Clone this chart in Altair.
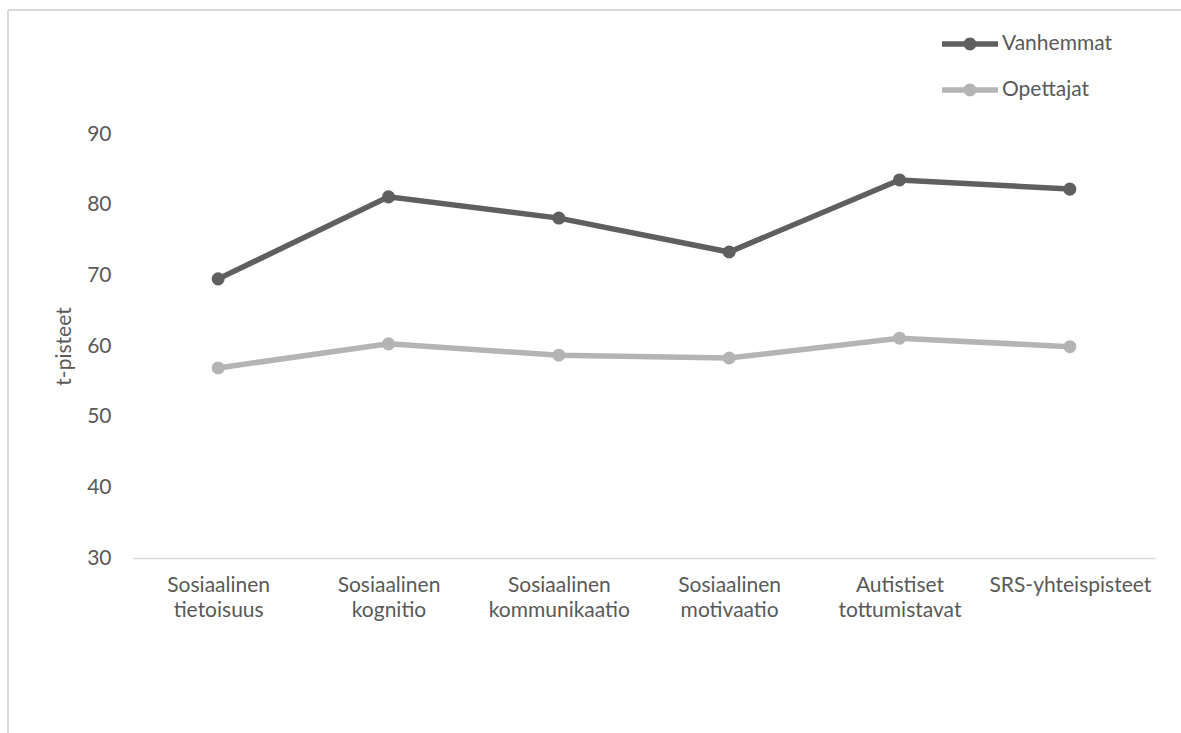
import altair as alt
import pandas as pd

categories = ["Sosiaalinen tietoisuus", "Sosiaalinen kognitio", "Sosiaalinen kommunikaatio",
              "Sosiaalinen motivaatio", "Autistiset tottumistavat", "SRS-yhteispisteet"]
vanhemmat = [69.5, 81.1, 78.1, 73.3, 83.5, 82.2]
opettajat = [56.9, 60.3, 58.7, 58.3, 61.1, 59.9]
series = ["Vanhemmat", "Opettajat"]
colors = ["#5f5f5f", "#b4b4b4"]
y_ticks = [30, 40, 50, 60, 70, 80, 90]

rows = []
for c, v in zip(categories, vanhemmat):
    rows.append({"kategoria": c, "sarja": "Vanhemmat", "arvo": v})
for c, v in zip(categories, opettajat):
    rows.append({"kategoria": c, "sarja": "Opettajat", "arvo": v})
df = pd.DataFrame(rows)

FONT = "Lato"
TXT = "#595959"
FS = 21

x_enc = alt.X("kategoria:N", sort=categories, title=None,
              scale=alt.Scale(paddingInner=0, paddingOuter=0.5),
              axis=alt.Axis(labelAngle=0, labelExpr="split(datum.label, ' ')",
                            labelFontSize=FS, labelColor=TXT, labelFont=FONT,
                            labelLineHeight=25, labelPadding=16, ticks=False,
                            domainColor="#d9d9d9", domainWidth=1.5, grid=False,
                            labelBaseline="top"))
y_enc = alt.Y("arvo:Q", title="t-pisteet",
              scale=alt.Scale(domain=[30, 90], nice=False, zero=False),
              axis=alt.Axis(values=y_ticks, grid=False, domain=False, ticks=False,
                            labelFontSize=FS, labelColor=TXT, labelFont=FONT,
                            labelPadding=22, titleFontSize=FS, titleColor=TXT,
                            titleFont=FONT, titleFontWeight="normal", titlePadding=12))

legend_path = ("M-1,-0.1 L1,-0.1 L1,0.1 L-1,0.1 Z "
               "M0.23,0 A0.23,0.23 0 1,1 -0.23,0 A0.23,0.23 0 1,1 0.23,0 Z")
legend = alt.Legend(title=None, orient="none", legendX=809, legendY=-118,
                    symbolType=legend_path, symbolSize=3136,
                    symbolStrokeWidth=0, symbolFillColor=None, labelFontSize=FS,
                    labelColor=TXT, labelFont=FONT, labelOffset=4,
                    rowPadding=8, padding=0)
color_enc = alt.Color("sarja:N", sort=series,
                      scale=alt.Scale(domain=series, range=colors),
                      legend=legend)

lines = alt.Chart(df).mark_line(strokeWidth=5.5).encode(x=x_enc, y=y_enc, color=color_enc,
                                                        detail="sarja:N")
points = alt.Chart(df).mark_point(filled=True, size=170, opacity=1).encode(
    x=x_enc, y=y_enc, color=color_enc)

border_top = alt.Chart(df).mark_rule(color="#d9d9d9", strokeWidth=1.5).encode(
    x=alt.value(-125), x2=alt.value(1200), y=alt.value(-124))
border_left = alt.Chart(df).mark_rule(color="#d9d9d9", strokeWidth=1.5).encode(
    x=alt.value(-125), y=alt.value(-124), y2=alt.value(700))

chart = alt.layer(border_top, border_left, lines, points).properties(
    width=1022, height=424,
    autosize=alt.AutoSizeParams(type="none"),
    padding={"left": 133, "top": 134, "right": 26, "bottom": 175},
    background="white",
).configure_view(stroke=None)

chart.save("out.html", embed_options={"renderer": "svg", "actions": False})
